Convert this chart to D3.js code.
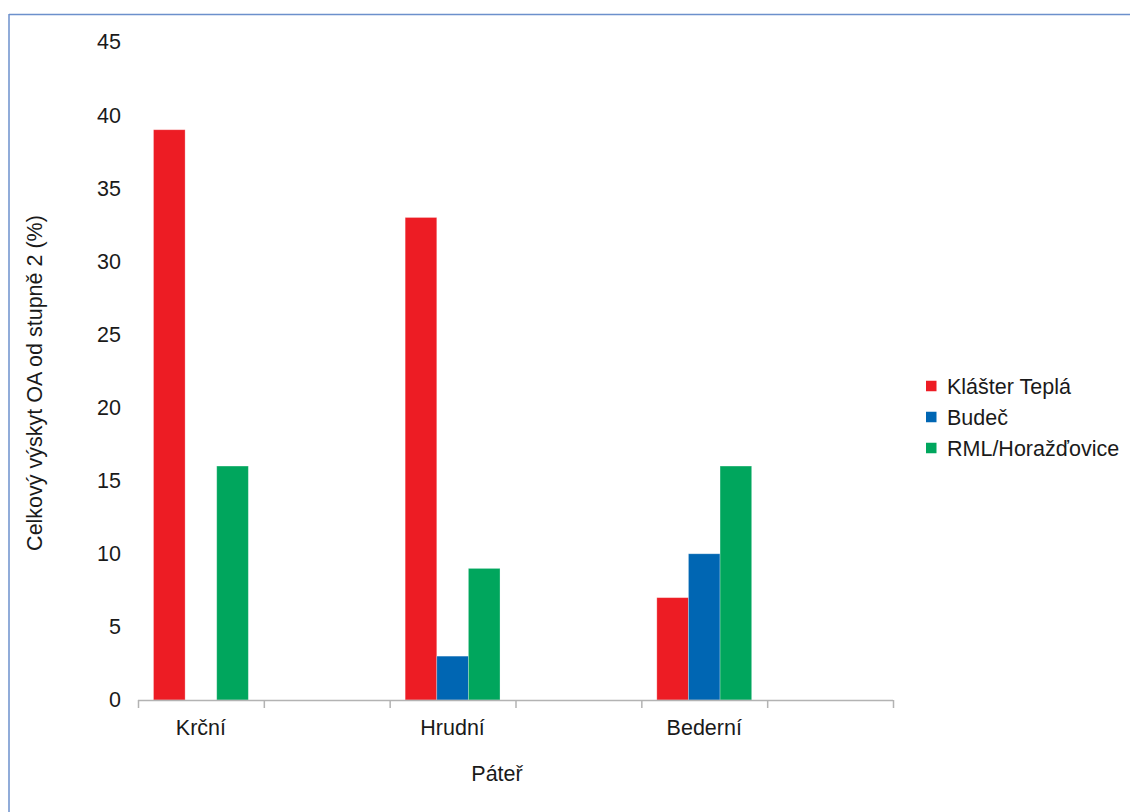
<!DOCTYPE html>
<html>
<head>
<meta charset="utf-8">
<script src="https://cdn.jsdelivr.net/npm/d3@7"></script>
<style>
  html, body { margin: 0; padding: 0; background: #fff; }
  svg { display: block; }
  text { font-family: "Liberation Sans", Arial, sans-serif; fill: #1a1a1a; }
</style>
</head>
<body>
<svg id="chart" width="1130" height="812"></svg>
<script>
// ---- data ----
const categories = ["Krční", "", "Hrudní", "", "Bederní", ""];
const slots = ["c0", "c1", "c2", "c3", "c4", "c5"];
const seriesNames = ["Klášter Teplá", "Budeč", "RML/Horažďovice"];
const klasterTepla = [39, null, 33, null, 7, null];
const budec = [0, null, 3, null, 10, null];
const rmlHorazdovice = [16, null, 9, null, 16, null];
const yTicks = [0, 5, 10, 15, 20, 25, 30, 35, 40, 45];
const colors = ["#ED1C24", "#0066B3", "#00A65D"];
const yTitle = "Celkový výskyt OA od stupně 2 (%)";
const xTitle = "Páteř";

const seriesValues = [klasterTepla, budec, rmlHorazdovice];

const svg = d3.select("#chart");

// frame
svg.append("line").attr("x1", 9).attr("x2", 1130).attr("y1", 14.5).attr("y2", 14.5)
  .attr("stroke", "#6C90CC").attr("stroke-width", 1.5);
svg.append("line").attr("x1", 9).attr("x2", 9).attr("y1", 14).attr("y2", 812)
  .attr("stroke", "#6C90CC").attr("stroke-width", 1.5);

const pLeft = 138, pRight = 893, pTop = 42, pBottom = 700;

const x0 = d3.scaleBand().domain(slots).range([pLeft, pRight]).padding(0);
const x1 = d3.scaleBand().domain(seriesNames).range([0, x0.bandwidth()])
  .paddingInner(0).paddingOuter(0.49);
const y = d3.scaleLinear().domain([0, 45]).range([pBottom, pTop]);

// y tick labels (no axis line)
const yAxis = d3.axisLeft(y).tickValues(yTicks).tickSize(0).tickPadding(17);
const gy = svg.append("g").attr("transform", `translate(${pLeft},0)`).call(yAxis);
gy.select(".domain").remove();
gy.selectAll("text").style("font-size", "21.5px")
  .style("font-family", '"Liberation Sans", Arial, sans-serif').attr("fill", "#1a1a1a");

// bars
slots.forEach((s, i) => {
  seriesValues.forEach((vals, j) => {
    const v = vals[i];
    if (v == null || v === 0) return;
    svg.append("rect")
      .attr("x", x0(s) + x1(seriesNames[j]))
      .attr("y", y(v))
      .attr("width", x1.bandwidth())
      .attr("height", y(0) - y(v))
      .attr("fill", colors[j])
      .attr("stroke", "#ffffff").attr("stroke-opacity", 0.35).attr("stroke-width", 0.8);
  });
});

// x axis
const boundaries = slots.map(s => x0(s)).concat([pRight]);
const xAxis = d3.axisBottom(d3.scaleLinear().domain([pLeft, pRight]).range([pLeft, pRight]))
  .tickValues(boundaries).tickSize(8).tickFormat("");
const gx = svg.append("g").attr("transform", `translate(0,${pBottom})`).call(xAxis);
gx.select(".domain").attr("stroke", "#B3B3B3").attr("stroke-width", 1.5)
  .attr("d", `M${pLeft},0.5H${pRight}`);
gx.selectAll(".tick line").attr("stroke", "#B3B3B3").attr("stroke-width", 1.5);

svg.append("g").selectAll("text").data(slots).join("text")
  .attr("x", s => x0(s) + x0.bandwidth() / 2)
  .attr("y", 735)
  .attr("text-anchor", "middle")
  .style("font-size", "21.5px")
  .text((s, i) => categories[i]);

// axis titles
svg.append("text").attr("x", 497).attr("y", 781).attr("text-anchor", "middle")
  .style("font-size", "21.5px").text(xTitle);
svg.append("text").attr("transform", "translate(42,383) rotate(-90)")
  .attr("text-anchor", "middle").style("font-size", "21.5px").text(yTitle);

// legend
const lg = svg.append("g");
seriesNames.forEach((n, j) => {
  const cy = 386 + j * 31;
  lg.append("rect").attr("x", 926).attr("y", cy - 5.25).attr("width", 10.5).attr("height", 10.5)
    .attr("fill", colors[j]);
  lg.append("text").attr("x", 947).attr("y", cy + 8).style("font-size", "21.5px").text(n);
});
</script>
</body>
</html>
